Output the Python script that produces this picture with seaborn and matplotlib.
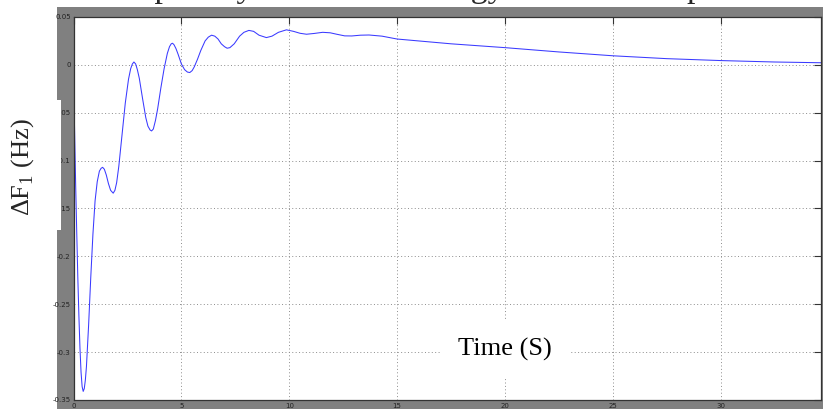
import numpy as np
import pandas as pd
import matplotlib
matplotlib.use("Agg")
import matplotlib.pyplot as plt
import seaborn as sns
from matplotlib.patches import Rectangle

# ==============================================================
# DATA
# ==============================================================
time_s = [0.0, 0.03, 0.06, 0.1, 0.15, 0.2, 0.25, 0.3, 0.35, 0.4, 0.45, 0.5,
          0.55, 0.6, 0.7, 0.8, 0.9, 1.0, 1.1, 1.2, 1.28, 1.35, 1.43, 1.52,
          1.62, 1.72, 1.84, 1.92, 2.0, 2.1, 2.25, 2.4, 2.55, 2.65, 2.73,
          2.8, 2.88, 2.96, 3.05, 3.2, 3.35, 3.45, 3.55, 3.62, 3.7, 3.8, 3.9,
          4.05, 4.2, 4.35, 4.45, 4.53, 4.59, 4.66, 4.75, 4.85, 5.0, 5.15,
          5.28, 5.39, 5.5, 5.6, 5.75, 5.9, 6.1, 6.25, 6.4, 6.55, 6.7, 6.85,
          7.0, 7.12, 7.25, 7.45, 7.7, 7.9, 8.13, 8.35, 8.6, 8.94, 9.2, 9.5,
          9.87, 10.2, 10.5, 10.8, 11.15, 11.55, 11.9, 12.2, 12.57, 12.9,
          13.3, 13.7, 14.3, 15.0, 17.5, 20.0, 22.5, 25.0, 27.5, 30.0, 32.5,
          34.7]
delta_f1 = [0.0, -0.045, -0.08, -0.125, -0.175, -0.222, -0.262, -0.296,
            -0.321, -0.336, -0.341, -0.338, -0.329, -0.315, -0.272, -0.222,
            -0.177, -0.142, -0.122, -0.111, -0.108, -0.107, -0.109, -0.115,
            -0.124, -0.131, -0.134, -0.131, -0.123, -0.106, -0.073, -0.04,
            -0.015, -0.004, 0.001, 0.003, 0.001, -0.005, -0.014, -0.035,
            -0.055, -0.064, -0.068, -0.069, -0.067, -0.058, -0.046, -0.024,
            -0.004, 0.012, 0.019, 0.022, 0.0226, 0.021, 0.017, 0.011, 0.001,
            -0.005, -0.0075, -0.008, -0.006, -0.002, 0.006, 0.015, 0.025,
            0.029, 0.031, 0.030, 0.027, 0.022, 0.019, 0.0174, 0.018, 0.022,
            0.030, 0.034, 0.036, 0.035, 0.031, 0.0285, 0.030, 0.034, 0.0366,
            0.035, 0.033, 0.032, 0.0328, 0.034, 0.0335, 0.032, 0.0303,
            0.0302, 0.031, 0.0312, 0.030, 0.027, 0.022, 0.018, 0.0135,
            0.0095, 0.0065, 0.0045, 0.003, 0.0022]

x_ticks = [0, 5, 10, 15, 20, 25, 30]
y_ticks = [-0.35, -0.3, -0.25, -0.2, -0.15, -0.1, -0.05, 0, 0.05]
y_tick_labels = ["-0.35", "-0.3", "-0.25", "-0.2", "-0.15", "-0.1", "-0.05", "0", "0.05"]

TITLE = "The impact by solar wind energy with load step"
XLABEL = "Time (S)"
YLABEL = r"$\Delta$F$_1$ (Hz)"

df = pd.DataFrame({"t": time_s, "df1": delta_f1})

# ==============================================================
# PLOT
# ==============================================================
sns.set_style("white")
plt.rcParams["font.family"] = ["DejaVu Sans"]
plt.rcParams["mathtext.fontset"] = "custom"
plt.rcParams["mathtext.rm"] = "Liberation Serif"

W, H = 823, 409
fig = plt.figure(figsize=(W / 100, H / 100), dpi=100)
fig.patch.set_facecolor("white")

# grey matlab figure background
fig.add_artist(Rectangle((57 / W, 0), 1 - 57 / W, (H - 7) / H,
                         transform=fig.transFigure, facecolor="#808080",
                         edgecolor="none", zorder=-5))

ax = fig.add_axes([73.5 / W, 9 / H, (821 - 73.5) / W, 383 / H])
ax.set_facecolor("white")

sns.lineplot(data=df, x="t", y="df1", ax=ax, color="#3a3aff", linewidth=0.75)

ax.set_xlim(0, 34.65)
ax.set_ylim(-0.35, 0.05)
ax.set_xticks(x_ticks)
ax.set_yticks(y_ticks)
ax.set_yticklabels(y_tick_labels)
ax.set_xlabel("")
ax.set_ylabel("")
ax.grid(True, color="#8c8c8c", linestyle=(0, (1, 2.5)), linewidth=0.7)
ax.tick_params(direction="in", length=5, width=0.8, color="#333333",
               labelsize=5, labelcolor="#222222", pad=2,
               top=True, right=True)
for sp in ax.spines.values():
    sp.set_color("#333333")
    sp.set_linewidth(0.9)

# in-axes x label with white box
ax.text(0.577, 0.131, XLABEL, transform=ax.transAxes, ha="center", va="center",
        fontsize=19, family="Liberation Serif", color="black",
        bbox=dict(boxstyle="square,pad=0.65", facecolor="white", edgecolor="none"))

# y label on a white patch over the grey frame
fig.add_artist(Rectangle((0, (H - 230) / H), 61 / W, 130 / H,
                         transform=fig.transFigure, facecolor="white",
                         edgecolor="none", zorder=2))
fig.text(23 / W, 1 - 167 / H, YLABEL, rotation=90, ha="center", va="center",
         fontsize=19, family="Liberation Serif", zorder=3)

# title, mostly cropped off the top of the screenshot
fig.text(57 / W, 1 + 3 / H, TITLE, ha="left", va="baseline",
         fontsize=24.5, family="Liberation Serif", zorder=-6)

fig.savefig("out.png", dpi=100)
